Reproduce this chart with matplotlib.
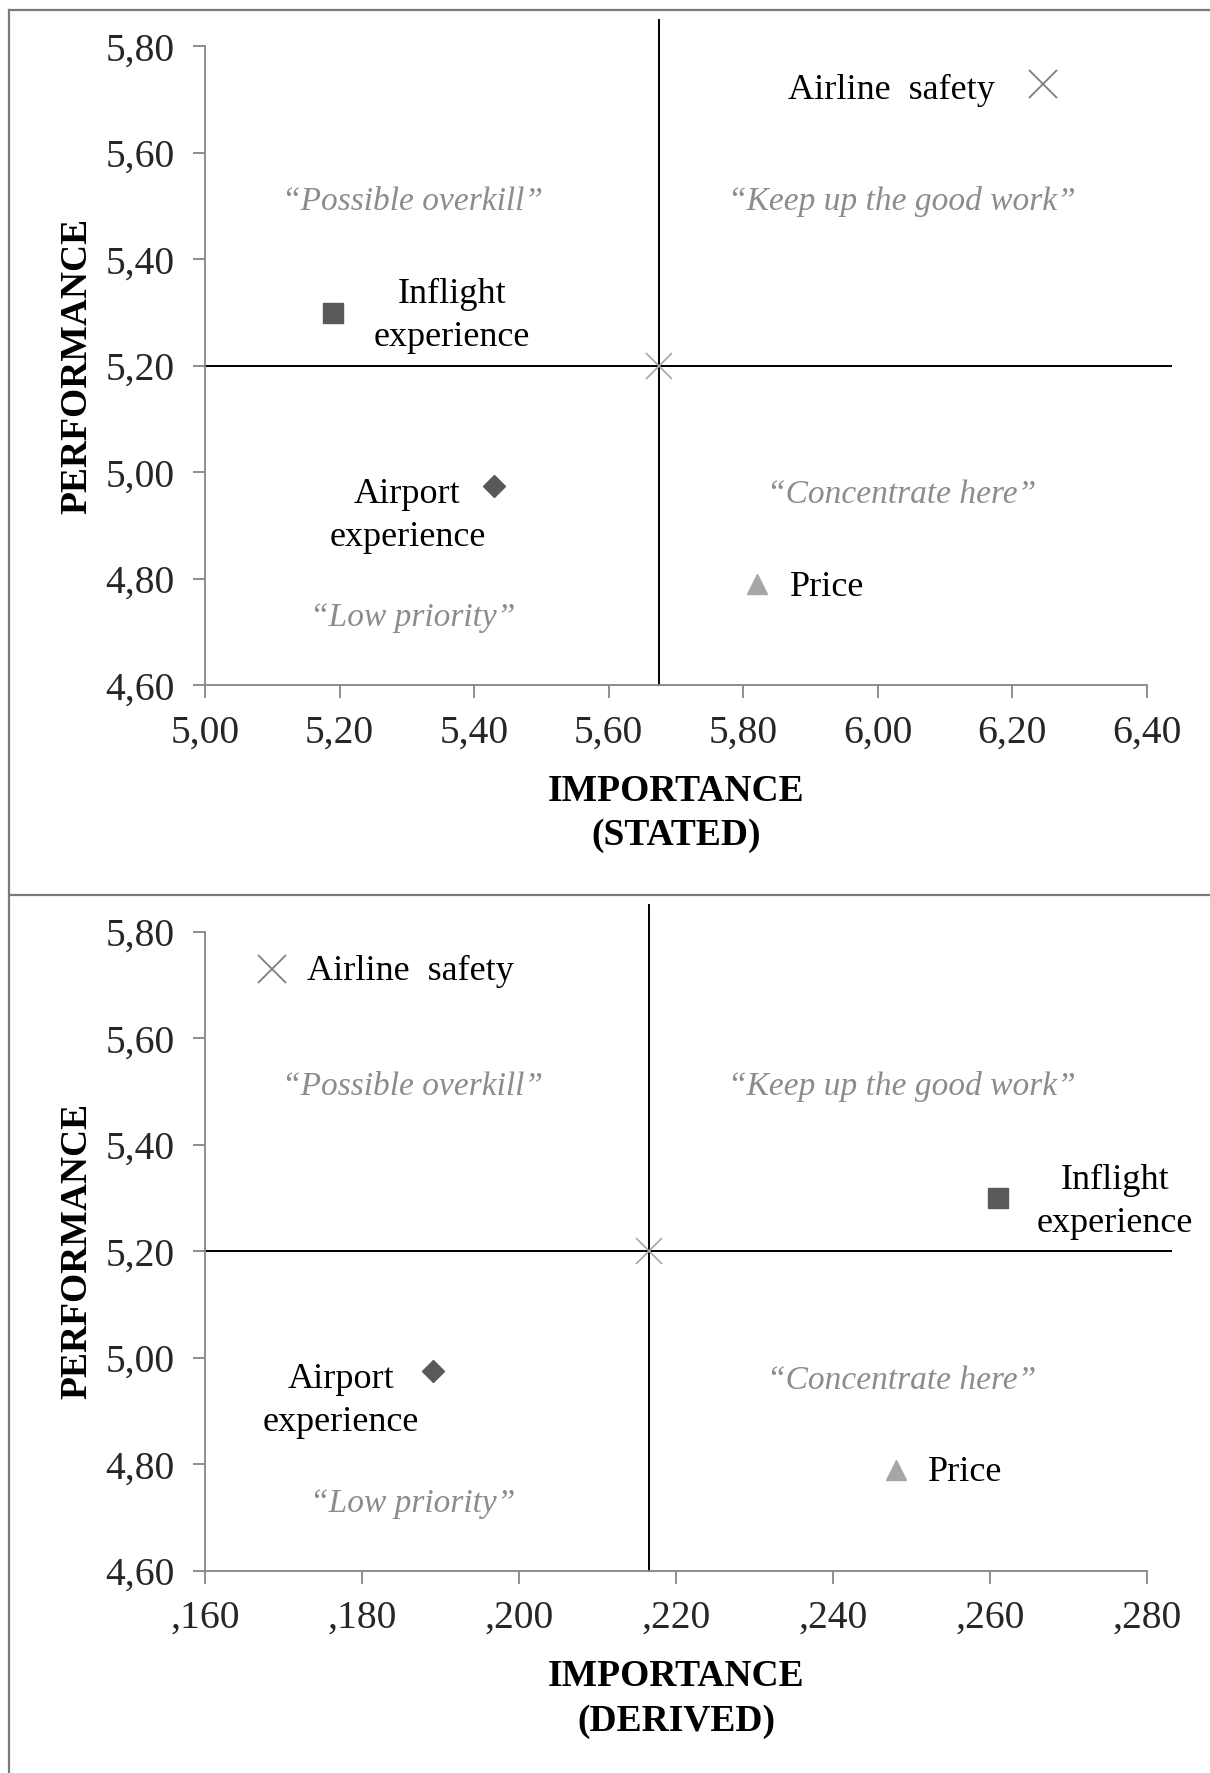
import matplotlib
matplotlib.use("Agg")
import matplotlib.pyplot as plt
from matplotlib.lines import Line2D
from matplotlib.ticker import FuncFormatter

plt.rcParams["font.family"] = ["Liberation Serif", "DejaVu Serif"]

# data
names = ["Airline  safety", "Inflight\nexperience", "Airport\nexperience", "Price"]
performance = [5.73, 5.30, 4.975, 4.79]
imp_stated = [6.245, 5.19, 5.43, 5.82]
imp_derived = [0.1685, 0.261, 0.189, 0.248]
perf_mean = 5.20
stated_mean = 5.675
derived_mean = 0.2165
stated_ticks = [5.00, 5.20, 5.40, 5.60, 5.80, 6.00, 6.20, 6.40]
derived_ticks = [0.160, 0.180, 0.200, 0.220, 0.240, 0.260, 0.280]
perf_ticks = [4.60, 4.80, 5.00, 5.20, 5.40, 5.60, 5.80]
quadrants = ["\u201cPossible overkill\u201d", "\u201cKeep up the good work\u201d",
             "\u201cConcentrate here\u201d", "\u201cLow priority\u201d"]

# marker styles per item
styles = [
    dict(marker="x", color="#7f7f7f", ms=20, mew=1.3),
    dict(marker="s", color="#595959", ms=14),
    dict(marker="D", color="#595959", ms=11),
    dict(marker="^", color="#a6a6a6", ms=14),
]

fig = plt.figure(figsize=(12.1, 17.73), dpi=100)


def draw_panel(ax, xs, xticks, xmean, xfmt, xlabel, offsets):
    xlo, xhi = xticks[0], xticks[-1]
    ax.set_xlim(xlo, xhi)
    ax.set_ylim(4.60, 5.80)
    ax.set_xticks(xticks)
    ax.set_yticks(perf_ticks)
    ax.xaxis.set_major_formatter(FuncFormatter(xfmt))
    ax.yaxis.set_major_formatter(FuncFormatter(lambda v, p: f"{v:.2f}".replace(".", ",")))
    for s in ["top", "right"]:
        ax.spines[s].set_visible(False)
    for s in ["left", "bottom"]:
        ax.spines[s].set_color("#868686")
        ax.spines[s].set_linewidth(1.3)
    ax.tick_params(direction="out", length=9, width=1.3, color="#868686",
                   labelsize=28.5, labelcolor="#262626")
    ax.tick_params(axis="y", pad=13)
    ax.tick_params(axis="x", pad=12)

    # quadrant lines, running past the axes like in the original
    xspan = xhi - xlo
    ax.plot([xmean, xmean], [4.60, 5.85], color="black", lw=1.4, clip_on=False, zorder=2)
    ax.plot([xlo, xhi + 0.026 * xspan], [perf_mean, perf_mean], color="black", lw=1.4,
            clip_on=False, zorder=2)
    ax.plot([xmean], [perf_mean], marker="x", color="#a6a6a6", ms=19, mew=1.2,
            clip_on=False, zorder=3)

    for x, y, name, st, (dx, dy, ha) in zip(xs, performance, names, styles, offsets):
        ax.plot([x], [y], linestyle="none", clip_on=False, zorder=4, **st)
        ax.annotate(name, (x, y), xytext=(dx, dy), textcoords="offset pixels",
                    ha=ha, va="center", multialignment="center", fontsize=26,
                    color="black", linespacing=1.4)

    qpos = [(0.2205, 0.757), (0.740, 0.757), (0.740, 0.298), (0.2205, 0.105)]
    for (qx, qy), q in zip(qpos, quadrants):
        ax.text(qx, qy, q, transform=ax.transAxes, ha="center", va="center",
                fontsize=24, style="italic", color="#8c8c8c")

    ax.set_xlabel(xlabel, fontsize=27, fontweight="bold", labelpad=16, linespacing=1.35)
    ax.set_ylabel("PERFORMANCE", fontsize=27, fontweight="bold")
    ax.yaxis.set_label_coords(-0.117, 0.5)


ax1 = fig.add_axes([205 / 1210, 1 - 685.3 / 1773, 942 / 1210, 639 / 1773])
draw_panel(ax1, imp_stated, stated_ticks, stated_mean,
           lambda v, p: f"{v:.2f}".replace(".", ","), "IMPORTANCE\n(STATED)",
           [(-48, -7, "right"), (119, -3, "center"), (-87, -30, "center"), (33, -3, "left")])

ax2 = fig.add_axes([205 / 1210, 1 - 1570.7 / 1773, 942 / 1210, 639 / 1773])
draw_panel(ax2, imp_derived, derived_ticks, derived_mean,
           lambda v, p: f"{v:.3f}".lstrip("0").replace(".", ","), "IMPORTANCE\n(DERIVED)",
           [(35, -2, "left"), (117, -4, "center"), (-92, -30, "center"), (32, -3, "left")])

# panel frames
fc = "#7a7a7a"
fig.add_artist(Line2D([9 / 1210, 1], [1 - 10 / 1773, 1 - 10 / 1773], color=fc, lw=1.6))
fig.add_artist(Line2D([9 / 1210, 1], [1 - 895 / 1773, 1 - 895 / 1773], color=fc, lw=1.6))
fig.add_artist(Line2D([9 / 1210, 9 / 1210], [0, 1 - 10 / 1773], color=fc, lw=1.6))

fig.savefig("out.png", dpi=100, facecolor="white")
